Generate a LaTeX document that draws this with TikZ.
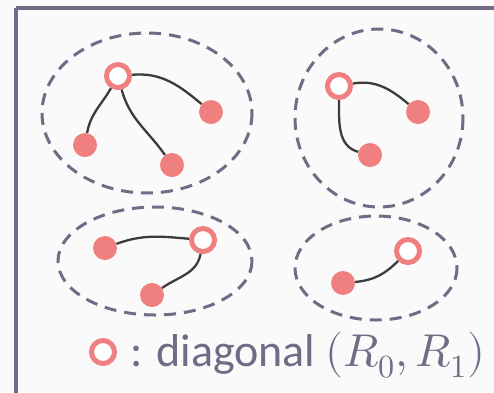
\documentclass[tikz,border=0pt]{standalone}
\usepackage{unicode-math}
\setmainfont{Carlito}
\setmathfont{Latin Modern Math}
\usetikzlibrary{positioning}
\definecolor{frameC}{HTML}{736A85}
\definecolor{nodeC}{HTML}{F08080}
\definecolor{edgeC}{HTML}{3C3C3C}
\begin{document}
\begin{tikzpicture}[x=1pt,y=-1pt,
  full/.style={circle,fill=nodeC,minimum size=24pt,inner sep=0pt},
  diag/.style={circle,draw=nodeC,line width=5pt,fill=white,minimum size=23pt,inner sep=0pt},
  group/.style={frameC,line width=3pt,dash pattern=on 12pt off 8pt},
  link/.style={edgeC,line width=2.3pt}]
\useasboundingbox (0,0) rectangle (494,392);
\fill[white!98!black] (0,0) rectangle (494,392);
\draw[frameC,line width=3.5pt] (16,8) -- (510,8) (16,8) -- (16,410);
% groups
\draw[group] (147,113) ellipse [x radius=105,y radius=80];
\draw[group] (379,118) ellipse [x radius=84,y radius=89];
\draw[group] (155,261) ellipse [x radius=97,y radius=54];
\draw[group] (376,268) ellipse [x radius=81,y radius=52];
% group 1
\node[full] (a1) at (211,112) {};
\node[full] (a2) at (85,145) {};
\node[full] (a3) at (172,165) {};
\node[diag] (a0) at (118,76) {};
\draw[link] (a0) to[out=5,in=140] (a1);
\draw[link] (a0) to[out=240,in=80] (a2);
\draw[link] (a0) to[out=-75,in=125] (a3);
% group 2
\node[full] (b1) at (418,112) {};
\node[full] (b2) at (370,155) {};
\node[diag] (b0) at (339,86) {};
\draw[link] (b0) to[out=10,in=140] (b1);
\draw[link] (b0) to[out=-90,in=165] (b2);
% group 3
\node[full] (c1) at (105,248) {};
\node[full] (c2) at (152,295) {};
\node[diag] (c0) at (203,240) {};
\draw[link] (c1) to[out=20,in=175] (c0);
\draw[link] (c0) to[out=-100,in=35] (c2);
% group 4
\node[full] (d1) at (343,283) {};
\node[diag] (d0) at (408,251) {};
\draw[link] (d1) to[out=5,in=225] (d0);
% legend
\node[diag] (key) at (103,352) {};
\node[right=13pt of key,yshift=-3pt,text=frameC,font=\fontsize{46}{52}\selectfont,inner sep=0pt] (keytext) {: diagonal $(R_0,R_1)$};
\end{tikzpicture}
\end{document}
